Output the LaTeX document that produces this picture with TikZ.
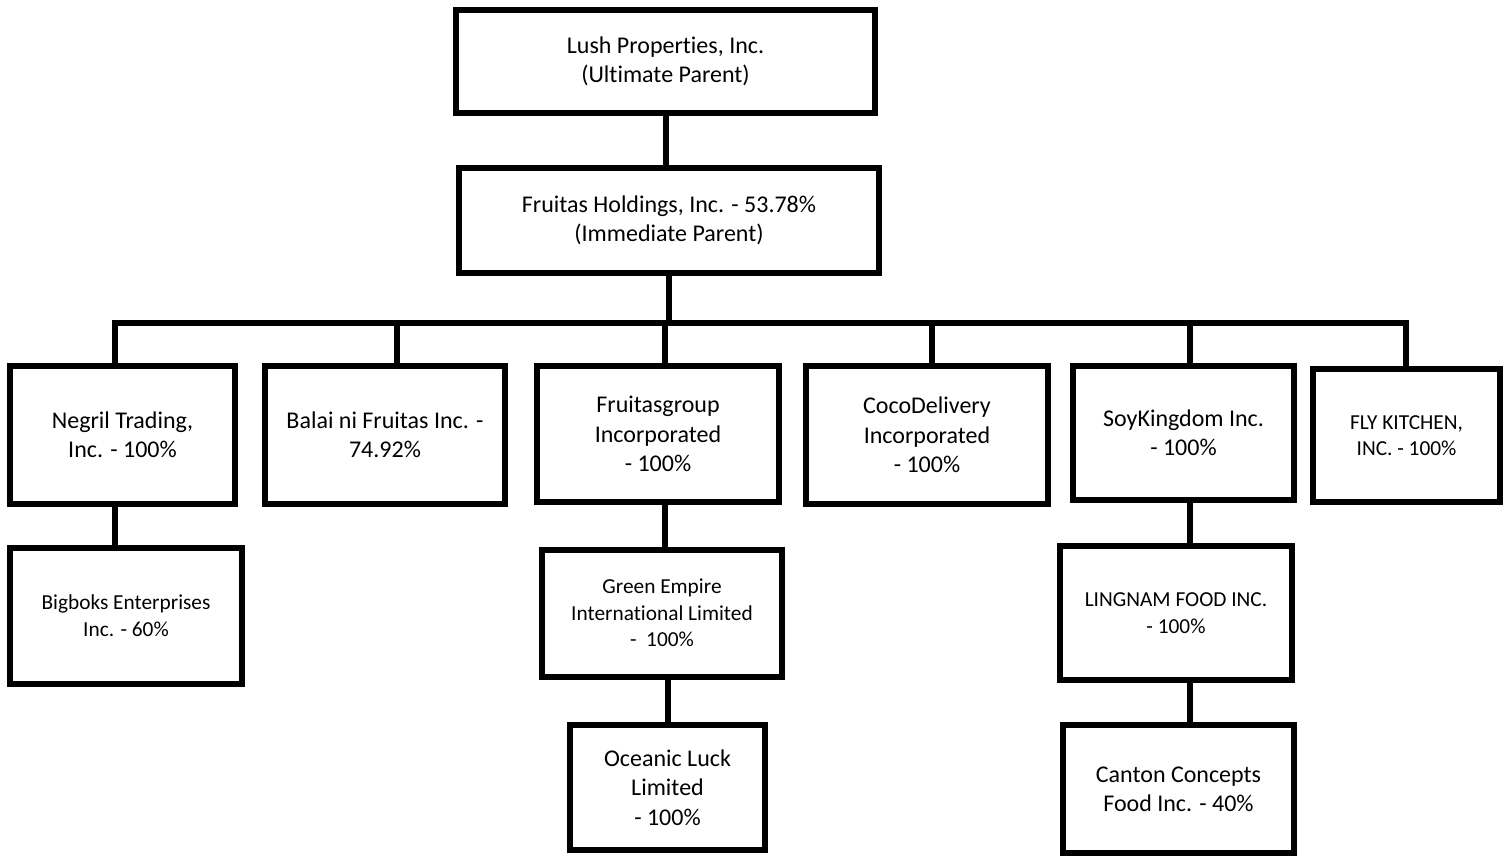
\documentclass[tikz,border=0pt]{standalone}
\usepackage{fontspec}
\setmainfont{Carlito}[Ligatures=NoCommon]
\tikzset{
  org/.style={draw, line width=4.5pt, align=center, inner sep=2pt, font=\fontsize{18}{22}\selectfont},
  orgs/.style={org, font=\fontsize{16}{20}\selectfont},
  link/.style={draw, line width=4.5pt}
}
\begin{document}
\begin{tikzpicture}[x=0.75pt,y=-0.75pt]
\useasboundingbox (0,0) rectangle (1509,857);
% parents
\node[org, minimum width=314.25pt, minimum height=77.25pt] (lush) at (665.5,61.5) {Lush Properties, Inc.\\(Ultimate Parent)};
\node[org, minimum width=315pt, minimum height=78.75pt] (fruitas) at (669,220.5) {Fruitas Holdings, Inc. - 53.78\%\\(Immediate Parent)};
% subsidiaries
\node[org, minimum width=168.75pt, minimum height=103.5pt] (negril) at (122.5,435) {Negril Trading,\\Inc. - 100\%};
\node[org, minimum width=180pt, minimum height=103.5pt] (balai) at (385,435) {Balai ni Fruitas Inc. -\\74.92\%};
\node[org, minimum width=181.5pt, minimum height=102pt] (fgroup) at (658,434) {Fruitasgroup\\Incorporated\\- 100\%};
\node[org, minimum width=181.5pt, minimum height=103.5pt] (coco) at (927,435) {CocoDelivery\\Incorporated\\- 100\%};
\node[org, minimum width=165.75pt, minimum height=100.5pt] (soy) at (1183.5,433) {SoyKingdom Inc.\\- 100\%};
\node[orgs, minimum width=140.25pt, minimum height=99.75pt] (fly) at (1406.5,435.5) {FLY KITCHEN,\\INC. - 100\%};
% lower levels
\node[orgs, minimum width=174pt, minimum height=102pt] (bigboks) at (126,616) {Bigboks Enterprises\\Inc. - 60\%};
\node[orgs, minimum width=180pt, minimum height=95.25pt] (green) at (662,613) {Green Empire\\International Limited\\-\ \ 100\%};
\node[org, minimum width=146.25pt, minimum height=93.75pt] (oceanic) at (667.5,787.5) {Oceanic Luck\\Limited\\- 100\%};
\node[orgs, minimum width=174pt, minimum height=100.5pt] (lingnam) at (1176,613) {LINGNAM FOOD INC.\\- 100\%};
\node[org, minimum width=173.25pt, minimum height=96pt] (canton) at (1178.5,789) {Canton Concepts\\Food Inc. - 40\%};
% bar
\coordinate (c1) at (115,323);
\coordinate (c2) at (397,323);
\coordinate (c3) at (665,323);
\coordinate (c4) at (932,323);
\coordinate (c5) at (1190,323);
\coordinate (c6) at (1406,323);
\path[link] (lush.south) -- (lush.south |- fruitas.north);
\path[link] (fruitas.south) -- (fruitas.south |- c3);
\path[link] (c1 |- negril.north) -- (c1) -- (c6) -- (c6 |- fly.north);
\path[link] (c2) -- (c2 |- balai.north);
\path[link] (c3) -- (c3 |- fgroup.north);
\path[link] (c4) -- (c4 |- coco.north);
\path[link] (c5) -- (c5 |- soy.north);
\path[link] (c1 |- negril.south) -- (c1 |- bigboks.north);
\path[link] (c3 |- fgroup.south) -- (c3 |- green.north);
\path[link] (oceanic.north |- green.south) -- (oceanic.north);
\path[link] (c5 |- soy.south) -- (c5 |- lingnam.north);
\path[link] (c5 |- lingnam.south) -- (c5 |- canton.north);
\end{tikzpicture}
\end{document}
